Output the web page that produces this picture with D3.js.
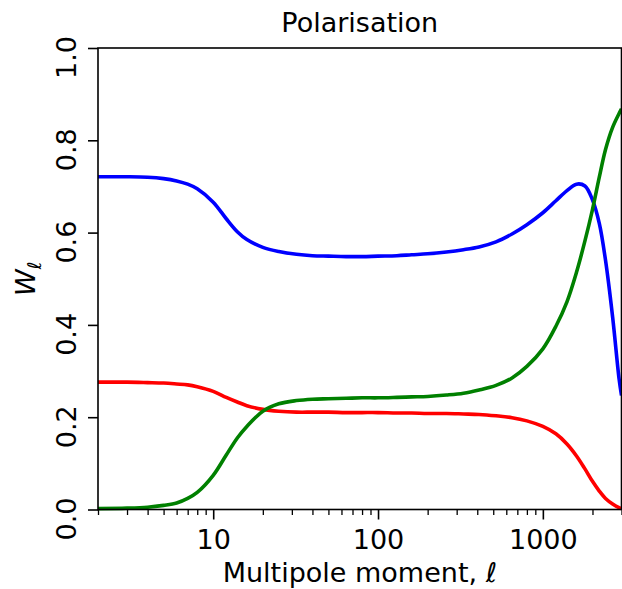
<!DOCTYPE html>
<html>
<head>
<meta charset="utf-8">
<script src="https://cdn.jsdelivr.net/npm/d3@7"></script>
<style>
    body { margin: 0; background: #fff; }
    text { font-family: "DejaVu Sans", sans-serif; }
</style>
</head>
<body>
<div class="chart"></div>
<script>
// Dimensions
const width = 622;
const height = 589;
const margin = { top: 48, right: 0.5, bottom: 79.5, left: 98 };

// Données
const ells = [2, 3, 4, 5, 6, 7, 8, 10, 12, 14, 16, 20, 25, 32, 40, 50, 64, 80, 100, 130, 160,
    200, 260, 330, 410, 520, 650, 800, 1000, 1200, 1400, 1600, 1800, 2000, 2200, 2400, 2650, 2900, 3000];

const wBlue = [0.721, 0.721, 0.720, 0.717, 0.712, 0.705, 0.695, 0.666, 0.630, 0.602, 0.585, 0.568, 0.559,
    0.553, 0.550, 0.549, 0.548, 0.548, 0.549, 0.550, 0.552, 0.554, 0.558, 0.563, 0.569, 0.580, 0.597,
    0.617, 0.643, 0.669, 0.691, 0.705, 0.701, 0.671, 0.620, 0.540, 0.417, 0.283, 0.247];

const wRed = [0.276, 0.276, 0.275, 0.274, 0.272, 0.270, 0.266, 0.256, 0.243, 0.233, 0.225, 0.217, 0.213,
    0.211, 0.211, 0.211, 0.210, 0.210, 0.210, 0.209, 0.209, 0.208, 0.208, 0.207, 0.206, 0.203, 0.199,
    0.192, 0.180, 0.164, 0.142, 0.116, 0.088, 0.061, 0.040, 0.024, 0.012, 0.004, 0.002];

const wGreen = [0.002, 0.003, 0.005, 0.009, 0.014, 0.024, 0.037, 0.074, 0.118, 0.155, 0.180, 0.213, 0.229,
    0.236, 0.239, 0.240, 0.241, 0.242, 0.242, 0.243, 0.244, 0.245, 0.248, 0.252, 0.259, 0.269, 0.285,
    0.310, 0.348, 0.397, 0.450, 0.514, 0.582, 0.650, 0.720, 0.780, 0.828, 0.858, 0.868];

const series = [
    { name: "blue", values: wBlue, color: "#0000ff" },
    { name: "red", values: wRed, color: "#ff0000" },
    { name: "green", values: wGreen, color: "#008000" }
];

const xMajorTicks = [10, 100, 1000];
const yTicks = [0.0, 0.2, 0.4, 0.6, 0.8, 1.0];

const titleText = "Polarisation";
const xLabelText = "Multipole moment, ℓ";

const fontSize = 27;

const svg = d3.select(".chart")
    .append("svg")
    .attr("width", width)
    .attr("height", height);

// Echelles
const x = d3.scaleLog()
    .domain([2, 3000])
    .range([margin.left, width - margin.right]);

const y = d3.scaleLinear()
    .domain([0, 1])
    .range([height - margin.bottom, margin.top]);

svg.append("clipPath")
    .attr("id", "plotClip")
    .append("rect")
    .attr("x", margin.left)
    .attr("y", margin.top - 5)
    .attr("width", width - margin.right - margin.left)
    .attr("height", height - margin.bottom - margin.top + 10);

// Courbes
const line = d3.line()
    .x((d, i) => x(ells[i]))
    .y(d => y(d))
    .curve(d3.curveCatmullRom.alpha(0.5));

svg.append("g")
    .attr("clip-path", "url(#plotClip)")
    .selectAll("path")
    .data(series)
    .join("path")
    .attr("d", d => line(d.values))
    .attr("fill", "none")
    .attr("stroke", d => d.color)
    .attr("stroke-width", 3.6)
    .attr("stroke-linejoin", "round");

// Axe x : ticks mineurs puis majeurs
const xMinorTicks = x.ticks().filter(t => !xMajorTicks.includes(t));

svg.append("g")
    .attr("transform", `translate(0, ${height - margin.bottom})`)
    .call(d3.axisBottom(x).tickValues(xMinorTicks).tickSize(5.5).tickFormat(""))
    .call(g => g.select(".domain").remove())
    .call(g => g.selectAll("line").attr("stroke", "#000").attr("stroke-width", 1.3));

svg.append("g")
    .attr("transform", `translate(0, ${height - margin.bottom})`)
    .call(d3.axisBottom(x).tickValues(xMajorTicks).tickSize(10).tickPadding(10).tickFormat(d3.format("d")))
    .call(g => g.select(".domain").remove())
    .call(g => g.selectAll("line").attr("stroke", "#000").attr("stroke-width", 1.6))
    .call(g => g.selectAll("text")
        .attr("fill", "#000")
        .style("font-size", fontSize + "px")
        .style("font-family", "DejaVu Sans"));

// Axe y (étiquettes tournées)
svg.append("g")
    .attr("transform", `translate(${margin.left}, 0)`)
    .call(d3.axisLeft(y).tickValues(yTicks).tickSize(10).tickFormat(d3.format(".1f")))
    .call(g => g.select(".domain").remove())
    .call(g => g.selectAll("line").attr("stroke", "#000").attr("stroke-width", 1.6))
    .call(g => g.selectAll("text")
        .attr("x", null)
        .attr("dy", null)
        .attr("fill", "#000")
        .attr("text-anchor", "middle")
        .attr("transform", "translate(-22, 9) rotate(-90)")
        .style("font-size", fontSize + "px")
        .style("font-family", "DejaVu Sans"));

// Cadre
svg.append("rect")
    .attr("x", margin.left)
    .attr("y", margin.top)
    .attr("width", width - margin.right - margin.left)
    .attr("height", height - margin.bottom - margin.top)
    .attr("fill", "none")
    .attr("stroke", "#000")
    .attr("stroke-width", 1.6);

// Titre
svg.append("text")
    .attr("x", (margin.left + width - margin.right) / 2)
    .attr("y", 32)
    .attr("text-anchor", "middle")
    .style("font-size", fontSize + "px")
    .text(titleText);

// Titre axe x
svg.append("text")
    .attr("x", (margin.left + width - margin.right) / 2)
    .attr("y", 582)
    .attr("text-anchor", "middle")
    .style("font-size", fontSize + "px")
    .text(xLabelText);

// Titre axe y : W avec indice ℓ
const yLabel = svg.append("text")
    .attr("transform", `translate(35, ${(margin.top + height - margin.bottom) / 2}) rotate(-90)`)
    .attr("text-anchor", "middle")
    .style("font-size", fontSize + "px");

yLabel.append("tspan")
    .style("font-style", "italic")
    .text("W");

yLabel.append("tspan")
    .attr("dy", 6)
    .style("font-size", (fontSize * 0.7) + "px")
    .style("font-style", "italic")
    .text("ℓ");
</script>
</body>
</html>
